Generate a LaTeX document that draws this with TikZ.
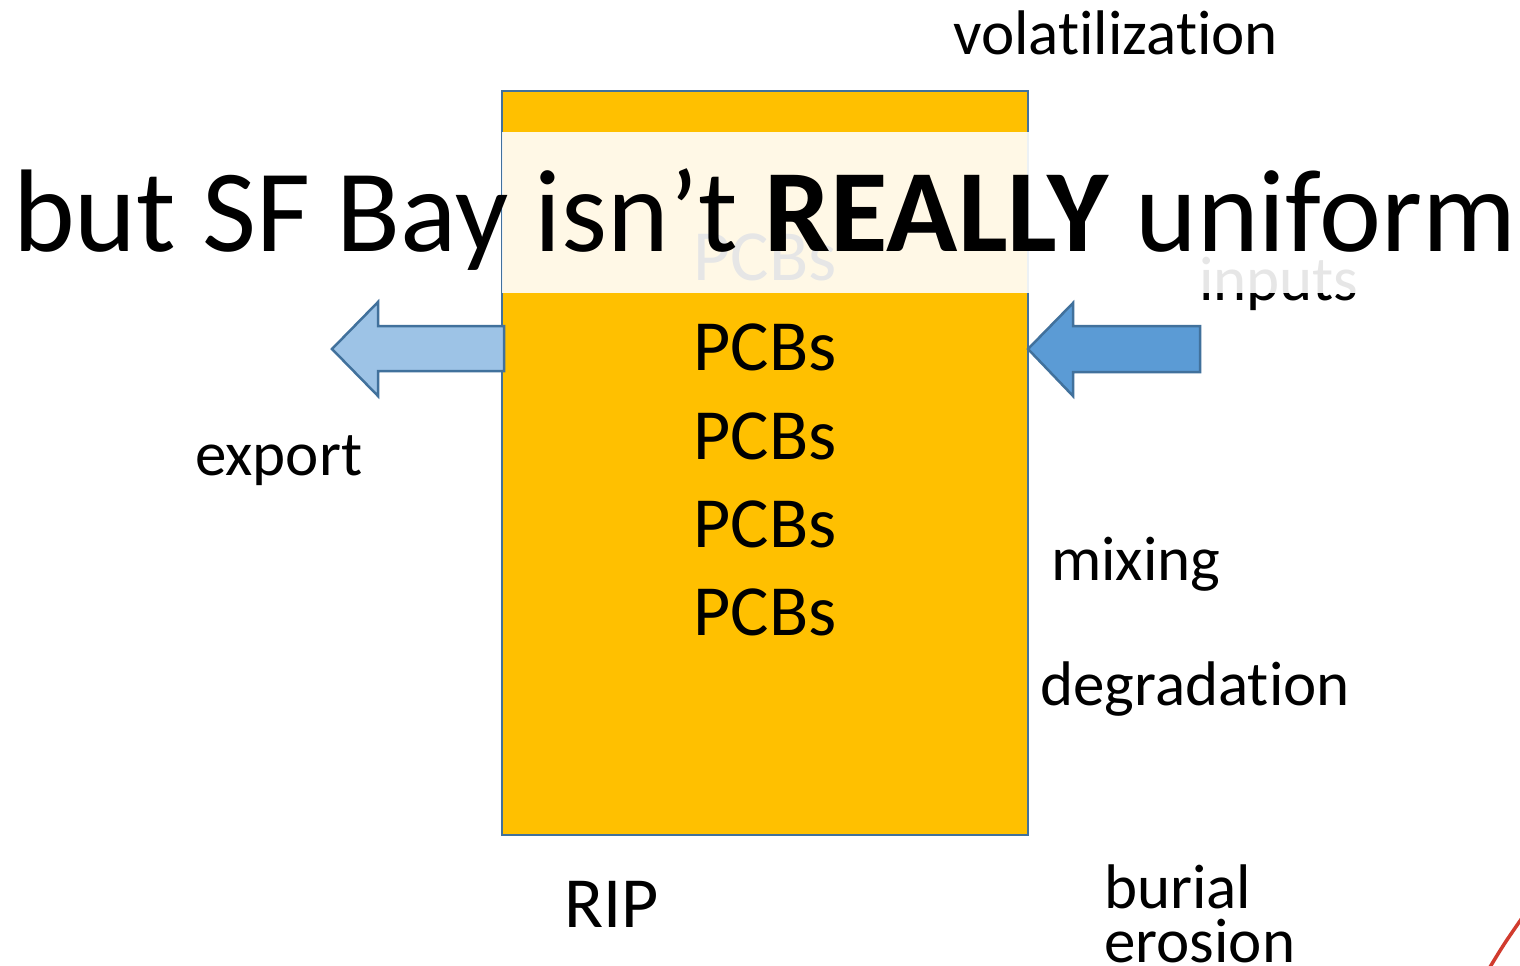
\documentclass[tikz,border=0pt]{standalone}
\usepackage{fontspec}
\setmainfont{Carlito}[Ligatures={NoCommon}]
\definecolor{boxyellow}{HTML}{FFC000}
\definecolor{boxedge}{HTML}{41719C}
\definecolor{lightblue}{HTML}{9DC3E6}
\definecolor{midblue}{HTML}{5B9BD5}
\definecolor{redline}{HTML}{D13B2E}
\begin{document}
\begin{tikzpicture}[x=1pt,y=-1pt,
  lbl/.style={font=\fontsize{63}{65}\selectfont, anchor=base west, inner sep=0pt},
  pcb/.style={font=\fontsize{72}{74}\selectfont, anchor=base, inner sep=0pt},
  ttlstyle/.style={font=\fontsize{117.5}{120}\selectfont, anchor=base west, inner sep=0pt},
  blockarrow/.style={draw=boxedge, line width=2.5pt, line join=miter},
  bay/.style={fill=boxyellow, draw=boxedge, line width=2pt}]
\useasboundingbox (0,0) rectangle (1520,966);
\fill[white] (0,0) rectangle (1520,966);
% the bay box
\draw[bay] (502,91) rectangle (1028,835);
\node[pcb] (p0) at (765,280) {PCBs};
\node[pcb] (p1) at (765,370) {PCBs};
\node[pcb] (p2) at (765,459) {PCBs};
\node[pcb] (p3) at (765,547) {PCBs};
\node[pcb] (p4) at (765,635) {PCBs};
% block arrows
\draw[blockarrow, fill=lightblue] (504,326) -- (378,326) -- (378,302) -- (332,349) -- (378,396) -- (378,371) -- (504,371) -- cycle;
\draw[blockarrow, fill=midblue] (1200,326) -- (1073,326) -- (1073,303) -- (1028,349) -- (1073,396) -- (1073,372) -- (1200,372) -- cycle;
% labels
\node[lbl] (vol) at (953,55) {volatilization};
\node[lbl] (inp) at (1199,300) {inputs};
\node[lbl] (exp) at (195,475) {export};
\node[lbl] (mix) at (1051,580) {mixing};
\node[lbl] (deg) at (1040,705) {degradation};
\node[pcb, anchor=base west] (rip) at (564,927) {RIP};
\node[lbl] (bur) at (1104,908) {burial};
\node[lbl] (ero) at (1104,962) {erosion};
% translucent band
\fill[white, fill opacity=0.9] (502,132) rectangle (1400,293);
% title
\node[ttlstyle] (ttl) at (13,251) {but SF Bay isn’t \textbf{REALLY} uniform};
% red stroke
\draw[redline, line width=3.5pt] (1490,967) .. controls (1504,944) .. (1522,918);
\end{tikzpicture}
\end{document}
